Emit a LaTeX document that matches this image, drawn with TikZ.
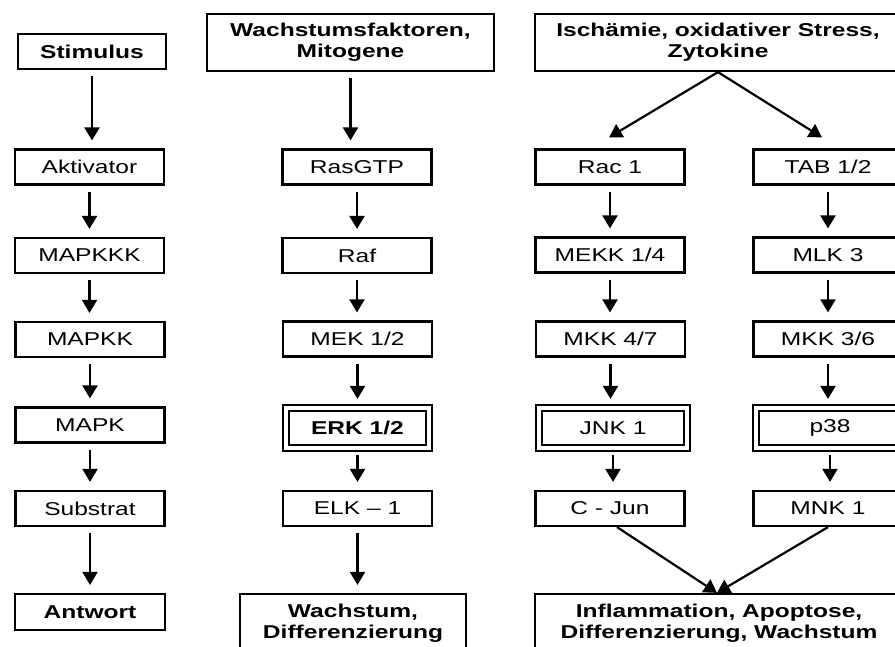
\documentclass[tikz,border=0pt]{standalone}
\usepackage{fontspec}
\setmainfont{Liberation Sans}[FakeStretch=1.32]
\usetikzlibrary{arrows.meta}
\begin{document}
\begin{tikzpicture}[x=1pt,y=-1pt,
  every node/.style={font=\fontsize{18.6}{20}\selectfont, inner sep=0pt},
  box/.style={draw, line width=2.2pt, minimum width=149pt, minimum height=35pt},
  headbox/.style={draw, line width=2.2pt, align=center,
    font=\fontsize{18.6}{21}\selectfont\bfseries},
  dblbox/.style={draw, double, line width=2.2pt, double distance=3.4pt,
    minimum width=143pt, minimum height=40pt},
  arr/.style={line width=2.2pt, -{Triangle[length=13pt,width=15pt]},
    shorten <=6pt, shorten >=8pt},
  diag/.style={line width=2.2pt, -{Triangle[length=13pt,width=15pt]}}
]
\useasboundingbox (0,0) rectangle (895,647);
\fill[white] (0,0) rectangle (895,647);
\clip (0,0) rectangle (895,647);

% generic cascade
\node[headbox, minimum width=148pt, minimum height=35pt] (stim) at (92,51.5) {Stimulus};
\node[box] (akt)  at (89.5,167)   {Aktivator};
\node[box] (mkkk) at (89.5,255.5) {MAPKKK};
\node[box] (mkk)  at (90,339.5)   {MAPKK};
\node[box] (mk)   at (90,425)     {MAPK};
\node[box] (sub)  at (90,508.5)   {Substrat};
\node[headbox, minimum width=150pt, minimum height=36pt] (antw) at (90,612) {Antwort};

% ERK cascade
\node[headbox, minimum width=287pt, minimum height=57pt] (wf) at (350.5,42.5) {Wachstumsfaktoren,\\Mitogene};
\node[box] (ras) at (357,167)   {RasGTP};
\node[box] (raf) at (357,255.5) {Raf};
\node[box] (mek) at (357.5,339) {MEK 1/2};
\node[dblbox, font=\fontsize{18.6}{20}\selectfont\bfseries] (erk) at (357.5,428) {ERK 1/2};
\node[box] (elk) at (357.5,508.5) {ELK – 1};
\node[headbox, minimum width=226pt, minimum height=58pt] (wd) at (353,623) {Wachstum,\\Differenzierung};

% stress cascades
\node[headbox, minimum width=366pt, minimum height=57pt] (isch) at (718,42.5) {Ischämie, oxidativer Stress,\\Zytokine};
\node[box] (rac)   at (610,167)   {Rac 1};
\node[box] (tab)   at (828,167)   {TAB 1/2};
\node[box] (mekk)  at (610,255)   {MEKK 1/4};
\node[box] (mlk)   at (828,255)   {MLK 3};
\node[box] (mkk47) at (610.5,339) {MKK 4/7};
\node[box] (mkk36) at (828,339)   {MKK 3/6};
\node[dblbox, minimum width=148pt] (jnk) at (613,428) {JNK 1};
\node[dblbox, minimum width=148pt] (p38) at (830,428) {p38};
\node[box] (cjun)  at (610,508.5) {C - Jun};
\node[box] (mnk)   at (828,508.5) {MNK 1};
\node[headbox, minimum width=368pt, minimum height=58pt] (infl) at (719,623) {Inflammation, Apoptose,\\Differenzierung, Wachstum};

% vertical arrows
\foreach \a/\b in {stim/akt, akt/mkkk, mkkk/mkk, mkk/mk, mk/sub, sub/antw,
                   wf/ras, ras/raf, raf/mek, mek/erk, erk/elk, elk/wd,
                   rac/mekk, mekk/mkk47, mkk47/jnk, jnk/cjun,
                   tab/mlk, mlk/mkk36, mkk36/p38, p38/mnk}
  \draw[arr] (\a.south) -- (\a.south |- \b.north);

% branching and merging arrows
\draw[diag] (isch.south) -- ([xshift=-1pt,yshift=11pt]rac.north);
\draw[diag] (isch.south) -- ([xshift=-6pt,yshift=11pt]tab.north);
\draw[diag] ([xshift=7pt]cjun.south) -- ([xshift=-2pt]infl.north);
\draw[diag] (mnk.south) -- ([xshift=-2pt]infl.north);
\end{tikzpicture}
\end{document}
